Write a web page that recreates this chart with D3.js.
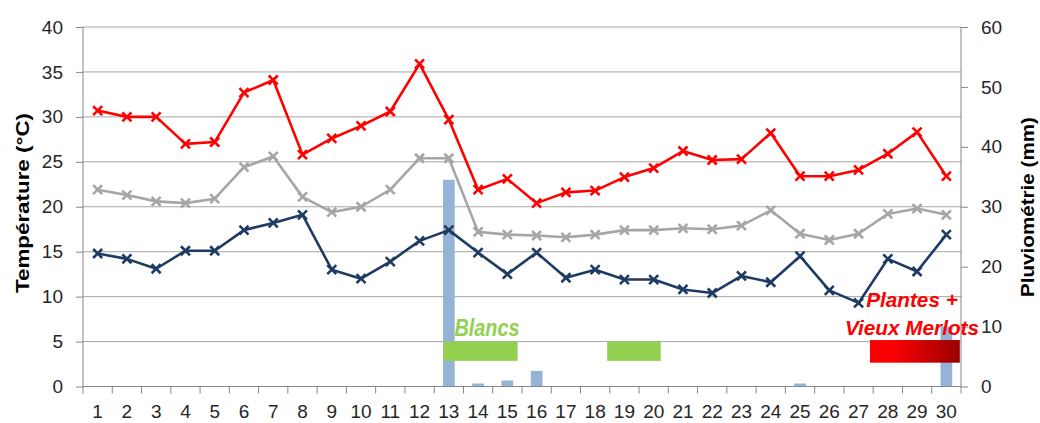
<!DOCTYPE html>
<html><head><meta charset="utf-8">
<script src="https://cdn.jsdelivr.net/npm/d3@7"></script>
<style>
html,body{margin:0;padding:0;background:#fff;}
svg{display:block;}
</style></head>
<body>
<svg id="chart" width="1040" height="423"></svg>
<script>
const days = d3.range(1, 31);
const tMax = [30.7,30.0,30.0,27.0,27.2,32.7,34.1,25.8,27.6,29.0,30.6,35.9,29.7,21.9,23.1,20.4,21.6,21.8,23.3,24.3,26.2,25.2,25.3,28.2,23.4,23.4,24.1,25.9,28.3,23.4];
const tMean = [21.9,21.3,20.6,20.4,20.9,24.4,25.6,21.1,19.4,20.0,21.9,25.4,25.4,17.2,16.9,16.8,16.6,16.9,17.4,17.4,17.6,17.5,17.9,19.6,17.0,16.3,17.0,19.2,19.8,19.1];
const tMin = [14.8,14.2,13.1,15.1,15.1,17.4,18.2,19.1,13.0,12.0,13.9,16.2,17.4,14.9,12.5,14.9,12.1,13.0,11.9,11.9,10.8,10.4,12.3,11.6,14.5,10.7,9.3,14.2,12.8,16.9];
const rain = [0,0,0,0,0,0,0,0,0,0,0,0,34.5,0.5,1.0,2.6,0,0,0,0,0,0,0,0,0.5,0,0,0,0,10.0];
const leftTicks = [0,5,10,15,20,25,30,35,40];
const rightTicks = [0,10,20,30,40,50,60];
// annotation blocks: [startDay, endDay, topTemp, bottomTemp]
const blocksGreen = [[12.81,15.35,5.0,2.85],[18.41,20.24,5.0,2.85]];
const blocksRed = [[27.39,30.46,5.17,2.65]];

const svg = d3.select("#chart");
const L = 83, R = 961, T = 27, B = 386.5;
const x = d3.scaleBand().domain(days).range([L, R]).paddingInner(0).paddingOuter(0);
const xc = d3.scaleLinear().domain([0.5, 30.5]).range([L, R]);
const yT = d3.scaleLinear().domain([0, 40]).range([B, T]);
const yR = d3.scaleLinear().domain([0, 60]).range([B, T]);
const cx = d => x(d) + x.bandwidth() / 2;
const font = "'Liberation Sans', Arial, sans-serif";

// gridlines
svg.append("g").selectAll("line").data(leftTicks.filter(d => d > 0)).join("line")
  .attr("x1", L).attr("x2", R).attr("y1", d => yT(d)).attr("y2", d => yT(d))
  .attr("stroke", "#A6A6A6").attr("stroke-width", 1);

// bars
const bw = x.bandwidth() * 0.4;
svg.append("g").selectAll("rect").data(days.filter((d, i) => rain[i] > 0)).join("rect")
  .attr("x", d => cx(d) - bw / 2).attr("width", bw)
  .attr("y", d => yR(rain[d - 1])).attr("height", d => B - yR(rain[d - 1]))
  .attr("fill", "#95B3D7");

// axes
const axL = svg.append("g").attr("transform", `translate(${L},0)`)
  .call(d3.axisLeft(yT).tickValues(leftTicks).tickSize(7).tickPadding(13));
const axR = svg.append("g").attr("transform", `translate(${R},0)`)
  .call(d3.axisRight(yR).tickValues(rightTicks).tickSize(7).tickPadding(13));
const axB = svg.append("g").attr("transform", `translate(0,${B})`)
  .call(d3.axisBottom(x).tickValues(days).tickSize(7).tickPadding(11));
// bottom ticks at band boundaries
axB.selectAll(".tick line").attr("x1", -x.bandwidth() / 2).attr("x2", -x.bandwidth() / 2);
axB.append("line").attr("x1", R).attr("x2", R).attr("y1", 0).attr("y2", 7);
[axL, axR, axB].forEach(a => {
  a.select(".domain").attr("stroke", "#868686").attr("stroke-width", 1);
  a.selectAll("line").attr("stroke", "#868686");
  a.selectAll("text").attr("font-family", font).attr("font-size", 19).attr("fill", "#262626");
});
axL.select(".domain").attr("d", `M0,${B}V${T}`);
axR.select(".domain").attr("d", `M0,${B}V${T}`);
axB.select(".domain").attr("d", `M${L},0H${R}`);

// annotation blocks
const defs = svg.append("defs");
const grad = defs.append("linearGradient").attr("id", "redgrad").attr("x1", "0%").attr("x2", "100%");
grad.append("stop").attr("offset", "0%").attr("stop-color", "#FF0000");
grad.append("stop").attr("offset", "30%").attr("stop-color", "#F60000");
grad.append("stop").attr("offset", "100%").attr("stop-color", "#9A0000");

svg.append("g").selectAll("rect").data(blocksGreen).join("rect")
  .attr("x", d => xc(d[0])).attr("width", d => xc(d[1]) - xc(d[0]))
  .attr("y", d => yT(d[2])).attr("height", d => yT(d[3]) - yT(d[2]))
  .attr("fill", "#92D050");
svg.append("g").selectAll("rect").data(blocksRed).join("rect")
  .attr("x", d => xc(d[0])).attr("width", d => xc(d[1]) - xc(d[0]))
  .attr("y", d => yT(d[2])).attr("height", d => yT(d[3]) - yT(d[2]))
  .attr("fill", "url(#redgrad)");

// lines
const series = [
  {vals: tMean, color: "#A6A6A6"},
  {vals: tMin, color: "#1F3B64"},
  {vals: tMax, color: "#FF0000"}
];
const line = d3.line().x((v, i) => cx(days[i])).y(v => yT(v));
series.forEach(s => {
  const g = svg.append("g");
  g.append("path").attr("d", line(s.vals)).attr("fill", "none")
    .attr("stroke", s.color).attr("stroke-width", 2.6).attr("stroke-linejoin", "round");
  g.selectAll("path.m").data(s.vals).join("path").attr("class", "m")
    .attr("transform", (v, i) => `translate(${cx(days[i])},${yT(v)})`)
    .attr("d", "M-4.5,-4.5L4.5,4.5M-4.5,4.5L4.5,-4.5")
    .attr("stroke", s.color).attr("stroke-width", 2.6).attr("fill", "none");
});

// annotation texts
svg.append("text").text("Blancs")
  .attr("x", 454.5).attr("y", 336).attr("font-family", font).attr("font-weight", "bold")
  .attr("font-style", "italic").attr("font-size", 23).attr("fill", "#92D050")
  .attr("textLength", 65).attr("lengthAdjust", "spacingAndGlyphs");
svg.append("text").text("Plantes +")
  .attr("x", 912).attr("y", 306.5).attr("text-anchor", "middle").attr("font-family", font)
  .attr("font-weight", "bold").attr("font-style", "italic").attr("font-size", 21).attr("fill", "#FF0000")
  .attr("textLength", 91.5).attr("lengthAdjust", "spacingAndGlyphs");
svg.append("text").text("Vieux Merlots")
  .attr("x", 912).attr("y", 335).attr("text-anchor", "middle").attr("font-family", font)
  .attr("font-weight", "bold").attr("font-style", "italic").attr("font-size", 21).attr("fill", "#FF0000")
  .attr("textLength", 134).attr("lengthAdjust", "spacingAndGlyphs");

// axis titles
svg.append("text").text("Température (°C)")
  .attr("transform", "translate(29,203) rotate(-90)").attr("text-anchor", "middle")
  .attr("font-family", font).attr("font-weight", "bold").attr("font-size", 19).attr("fill", "#000")
  .attr("textLength", 180).attr("lengthAdjust", "spacingAndGlyphs");
svg.append("text").text("Pluviométrie (mm)")
  .attr("transform", "translate(1034,207) rotate(-90)").attr("text-anchor", "middle")
  .attr("font-family", font).attr("font-weight", "bold").attr("font-size", 19).attr("fill", "#000")
  .attr("textLength", 180).attr("lengthAdjust", "spacingAndGlyphs");
</script>
</body></html>
